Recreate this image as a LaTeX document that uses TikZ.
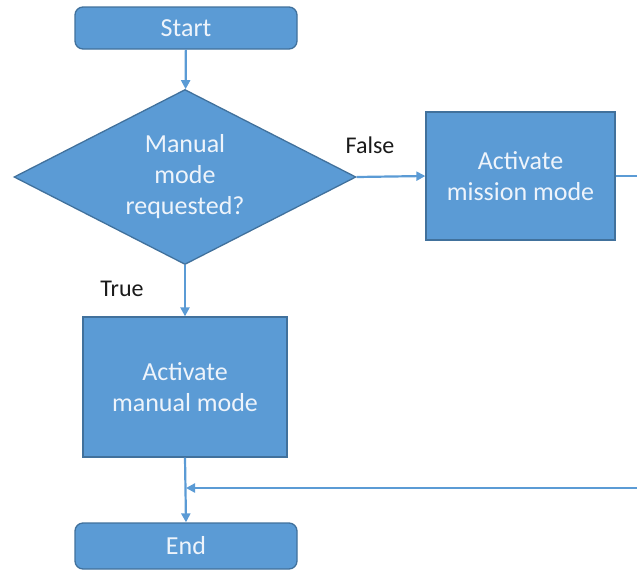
\documentclass[tikz,border=0pt]{standalone}
\usepackage{fontspec}
\setmainfont{Carlito}
\usetikzlibrary{shapes.geometric,arrows.meta}
\definecolor{boxfill}{HTML}{5B9BD5}
\definecolor{boxedge}{HTML}{41719C}
\definecolor{flow}{HTML}{5B9BD5}
\definecolor{boxtext}{HTML}{EEF4FB}
\definecolor{labeltext}{HTML}{1A1A1A}
\tikzset{
  base/.style={fill=boxfill, draw=boxedge, line width=1.3pt, text=boxtext,
    font=\fontsize{26}{31}\selectfont, align=center, inner sep=0pt},
  terminal/.style={base, rounded corners=8pt, minimum width=222pt, minimum height=42pt},
  process/.style={base, minimum width=204pt, minimum height=140pt},
  decision/.style={base, diamond, shape aspect=1.95, minimum width=342pt, minimum height=175pt},
  flowline/.style={draw=flow, line width=2.2pt, -{Triangle[length=9pt,width=9pt]}},
  plainline/.style={draw=flow, line width=2.2pt},
  branch/.style={text=labeltext, font=\fontsize{24}{28}\selectfont, inner sep=0pt}
}
\begin{document}
\begin{tikzpicture}[x=1pt,y=-1pt]
  \useasboundingbox (0,0) rectangle (637,571);

  % flowchart boxes
  \node[terminal] (start) at (186,28) {Start};
  \node[decision] (ask) at (185,177) {Manual\\mode\\requested?};
  \node[process, minimum width=189pt, minimum height=128pt] (mission) at (520.5,176) {Activate\\mission mode};
  \node[process] (manual) at (185,387) {Activate\\manual mode};
  \node[terminal, minimum height=46pt] (end) at (186,546) {End};

  % branch labels
  \node[branch] (lblfalse) at (370,145) {False};
  \node[branch] (lbltrue) at (122,289) {True};

  % return path from the mission branch, running off the right edge
  \coordinate (outR) at (637,176);
  \coordinate (inR) at (637,488);
  \coordinate (join) at (186,488);

  % connectors
  \draw[flowline] (start) -- (ask);
  \draw[flowline] (ask.east) -- (mission.west);
  \draw[flowline] (ask.south) -- (manual.north);
  \draw[flowline] (manual.south) -- (end.north);
  \draw[plainline] (mission.east) -- (outR);
  \draw[flowline] (inR) -- (join);
\end{tikzpicture}
\end{document}
